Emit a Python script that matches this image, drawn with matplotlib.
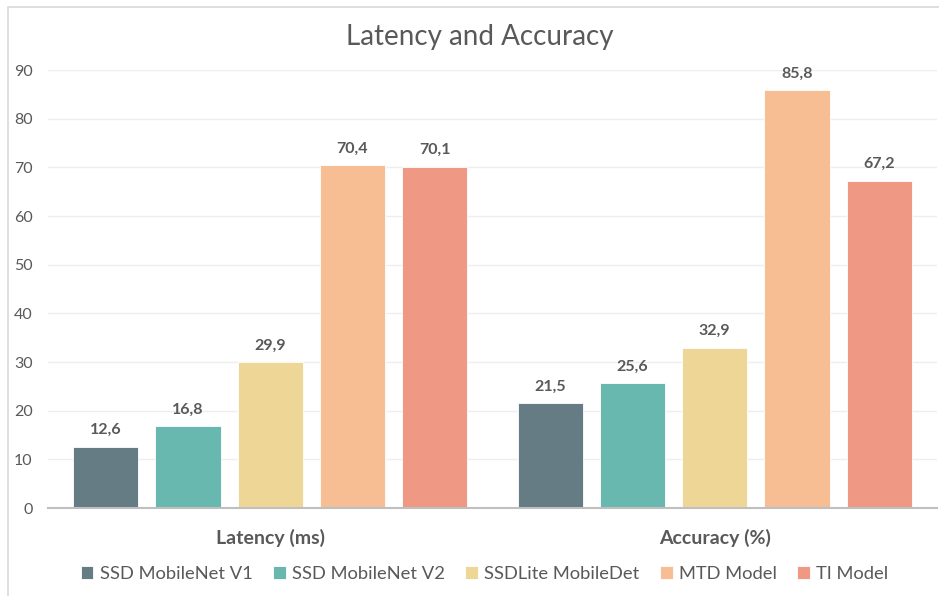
import matplotlib
matplotlib.use("Agg")
import matplotlib.pyplot as plt
import numpy as np

groups = ["Latency (ms)", "Accuracy (%)"]
models = ["SSD MobileNet V1", "SSD MobileNet V2", "SSDLite MobileDet", "MTD Model", "TI Model"]
latency = [12.6, 16.8, 29.9, 70.4, 70.1]
accuracy = [21.5, 25.6, 32.9, 85.8, 67.2]
colors = ["#657C84", "#69B8AF", "#EED696", "#F6BE92", "#EF9985"]
yticks = [0, 10, 20, 30, 40, 50, 60, 70, 80, 90]

plt.rcParams['font.family'] = ['Lato', 'DejaVu Sans']
txt = "#595959"

fig = plt.figure(figsize=(9.39, 5.96), dpi=100)
ax = fig.add_axes([48/939, 1 - 508/596, (937-48)/939, (508-70)/596])

# light frame around the whole chart
frame = plt.Rectangle((8/939, -0.05), 1.2, (596-6.5)/596 + 0.05, transform=fig.transFigure,
                      fill=False, edgecolor="#D9D9D9", linewidth=1.2)
fig.patches.append(frame)

x = np.arange(len(groups))
width = 0.147
pitch = 0.185
for i, (m, c) in enumerate(zip(models, colors)):
    vals = [latency[i], accuracy[i]]
    pos = x + (i - 2) * pitch
    bars = ax.bar(pos, vals, width, color=c, edgecolor="#FFFFFF", linewidth=0.6, label=m, zorder=3)
    for b, v in zip(bars, vals):
        ax.text(b.get_x() + b.get_width()/2, v + 2.0, f"{v:.1f}".replace(".", ","),
                ha="center", va="bottom", fontsize=11.5, fontweight="bold", color=txt)

ax.set_xlim(-0.5, 1.5)
ax.set_ylim(0, 90)
ax.set_yticks(yticks)
ax.set_yticklabels([str(t) for t in yticks], fontsize=11.5, color=txt)
ax.yaxis.grid(True, color="#EEEEEE", linewidth=1, zorder=0)
ax.set_axisbelow(True)
ax.tick_params(axis="y", length=0, pad=11)
ax.tick_params(axis="x", length=0, pad=15)
ax.set_xticks(x)
ax.set_xticklabels(groups, fontsize=14, fontweight="bold", color=txt)
for s in ["top", "right", "left"]:
    ax.spines[s].set_visible(False)
ax.spines["bottom"].set_color("#BFBFBF")
ax.spines["bottom"].set_linewidth(1.5)
ax.spines["bottom"].set_zorder(4)

fig.text(480/939, 1 - 37/596, "Latency and Accuracy", ha="center", va="center",
         fontsize=20, color=txt)

ax.legend(loc="center", bbox_to_anchor=(0.491, (508 - 574) / 438), ncol=5, frameon=False,
          fontsize=13.2, handlelength=0.7, handleheight=0.7, handletextpad=0.35,
          columnspacing=1.1, labelcolor=txt)

plt.savefig("out.png", dpi=100)
